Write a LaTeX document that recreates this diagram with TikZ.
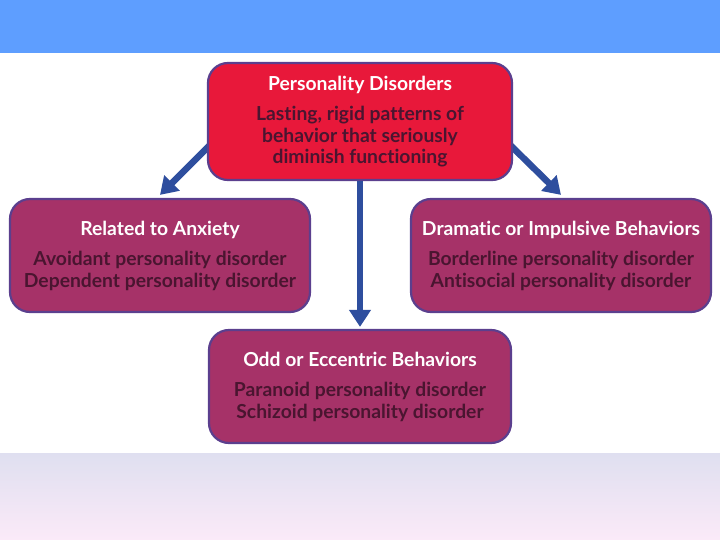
\documentclass[tikz,border=0pt]{standalone}
\usepackage{fontspec}
\setmainfont{Lato}[Ligatures=NoCommon]
\usetikzlibrary{arrows.meta,backgrounds}
\definecolor{bandblue}{HTML}{5E9EFF}
\definecolor{boxred}{HTML}{E8183A}
\definecolor{boxplum}{HTML}{A63268}
\definecolor{boxedge}{HTML}{5B3F8E}
\definecolor{bodyink}{HTML}{4A1530}
\definecolor{arrowblue}{HTML}{2E4E9E}
\definecolor{fadetop}{HTML}{DFDFF0}
\definecolor{fadebot}{HTML}{FBEAF8}
\newcommand{\grouptext}[2]{{\color{white}#1}\\[8.5pt]#2}

\begin{document}
\begin{tikzpicture}[x=1pt,y=-1pt,
  group/.style={draw=boxedge, line width=2.2pt, rounded corners=20pt,
    fill=boxplum, minimum height=113pt, align=center,
    font=\bfseries\fontsize{19.3}{21.7}\selectfont, text=bodyink},
  link/.style={arrowblue, line width=6.5pt,
    -{Triangle[width=21pt,length=17pt]}}]
\useasboundingbox (0,0) rectangle (720,540);
% background bands
\fill[bandblue] (0,0) rectangle (720,53);
\shade[top color=fadetop, bottom color=fadebot] (0,453) rectangle (720,540);
% boxes
\node[group, fill=boxred, minimum width=304pt, minimum height=117pt] (top) at (360,121.5)
  {\grouptext{Personality Disorders}{Lasting, rigid patterns of\\behavior that seriously\\diminish functioning}};
\node[group, minimum width=300pt] (anxiety) at (160,255.5)
  {\grouptext{Related to Anxiety}{Avoidant personality disorder\\Dependent personality disorder}};
\node[group, minimum width=300pt] (dramatic) at (561,255.5)
  {\grouptext{Dramatic or Impulsive Behaviors}{Borderline personality disorder\\Antisocial personality disorder}};
\node[group, minimum width=302pt] (odd) at (360,386.5)
  {\grouptext{Odd or Eccentric Behaviors}{Paranoid personality disorder\\Schizoid personality disorder}};
% arrows
\begin{pgfonlayer}{background}
\draw[link] ([xshift=10pt,yshift=43pt]top.south west) -- ([yshift=3pt]anxiety.north);
\draw[link] ([xshift=-10pt,yshift=43pt]top.south east) -- ([yshift=3pt]dramatic.north);
\end{pgfonlayer}
\draw[link] (top.south) -- ([yshift=2pt]odd.north);
\end{tikzpicture}
\end{document}
